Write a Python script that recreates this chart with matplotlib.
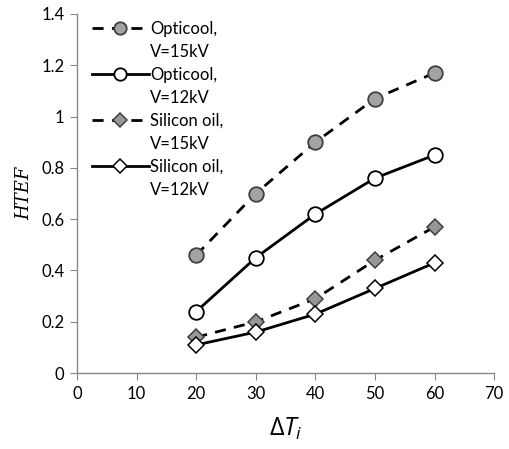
import numpy as np
import matplotlib
matplotlib.use("Agg")
import matplotlib.pyplot as plt
from matplotlib.lines import Line2D

# data
delta_t = [20, 30, 40, 50, 60]
opticool_15 = [0.46, 0.70, 0.90, 1.07, 1.17]
opticool_12 = [0.24, 0.45, 0.62, 0.76, 0.85]
silicon_15 = [0.14, 0.20, 0.29, 0.44, 0.57]
silicon_12 = [0.11, 0.16, 0.23, 0.33, 0.43]

label_top = ["Opticool,", "Opticool,", "Silicon oil,", "Silicon oil,"]
label_bottom = ["V=15kV", "V=12kV", "V=15kV", "V=12kV"]

plt.rcParams['font.family'] = ['Lato', 'DejaVu Sans']
plt.rcParams['mathtext.fontset'] = 'custom'
plt.rcParams['mathtext.it'] = 'Open Sans:italic'
plt.rcParams['mathtext.rm'] = 'Open Sans'

fig = plt.figure(figsize=(5.10, 4.49), dpi=100)
ax = fig.add_axes([0.151, 0.169, 0.818, 0.800])

dash = (0, (4, 3))
h1, = ax.plot(delta_t, opticool_15, ls=dash, color='black', lw=2,
              marker='o', ms=10.5, mfc='#a3a3a3', mec='#404040', mew=1.3)
h2, = ax.plot(delta_t, opticool_12, ls='-', color='black', lw=2,
              marker='o', ms=10.5, mfc='white', mec='black', mew=1.3)
h3, = ax.plot(delta_t, silicon_15, ls=dash, color='black', lw=2,
              marker='D', ms=8, mfc='#979797', mec='#404040', mew=1.1)
h4, = ax.plot(delta_t, silicon_12, ls='-', color='black', lw=2,
              marker='D', ms=8, mfc='white', mec='black', mew=1.1)

ax.set_xlim(0, 70)
ax.set_ylim(0, 1.4)
ax.set_xticks(np.arange(0, 71, 10))
ax.set_yticks(np.arange(0, 1.41, 0.2))
ax.set_yticklabels(['0', '0.2', '0.4', '0.6', '0.8', '1', '1.2', '1.4'])

for s in ['top', 'right']:
    ax.spines[s].set_visible(False)
for s in ['left', 'bottom']:
    ax.spines[s].set_color('#868686')
    ax.spines[s].set_linewidth(1.0)
ax.tick_params(direction='out', length=5, color='#868686', labelsize=12, pad=4)

ax.set_xlabel(r'$\Delta T_i$', fontsize=18, labelpad=10)
ax.set_ylabel('HTEF', fontsize=13, fontfamily='DejaVu Serif', style='italic', labelpad=6)

# legend: handle sits next to the first line of each two-line label
blank = Line2D([], [], ls='none')
handles, labels = [], []
for h, top, bot in zip([h1, h2, h3, h4], label_top, label_bottom):
    handles += [h, blank]
    labels += [top, bot]
ax.legend(handles, labels, loc='upper left', bbox_to_anchor=(0.02, 1.0),
          frameon=False, fontsize=12, handlelength=3.4, handletextpad=0.1,
          labelspacing=0.42, borderaxespad=0, markerscale=0.85)

plt.savefig('out.png', dpi=100)
